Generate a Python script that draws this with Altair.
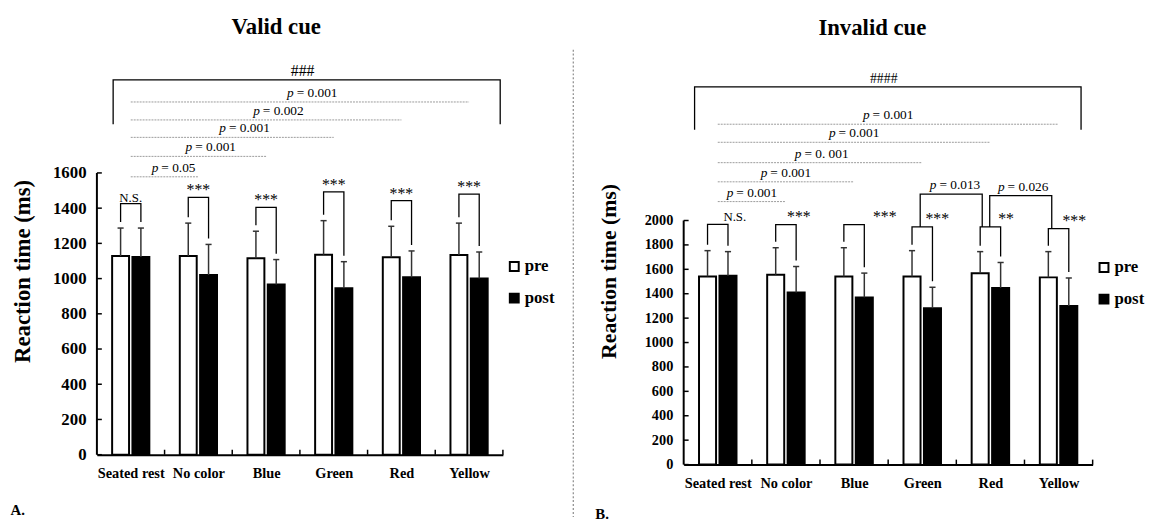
import altair as alt
import pandas as pd

FONT = "Liberation Serif"

categories = ["Seated rest", "No color", "Blue", "Green", "Red", "Yellow"]
groups = ["pre", "post"]

# ---- A. Valid cue ----
valid_pre = [1128, 1128, 1115, 1136, 1121, 1134]
valid_pre_sd = [159, 187, 154, 193, 176, 181]
valid_post = [1123, 1020, 966, 945, 1007, 1001]
valid_post_sd = [164, 174, 142, 151, 150, 150]
valid_pair_top = [1426, 1461, 1405, 1493, 1443, 1480]
valid_pair_sig = ["N.S.", "***", "***", "***", "***", "***"]
valid_rest_levels = [1578, 1694, 1802, 1901, 2003]
valid_rest_p = ["= 0.05", "= 0.001", "= 0.001", "= 0.002", "= 0.001"]
valid_overall = [2129, 1877]
valid_overall_sig = "###"
valid_ticks = [0, 200, 400, 600, 800, 1000, 1200, 1400, 1600]

# ---- B. Invalid cue ----
invalid_pre = [1542, 1556, 1542, 1542, 1567, 1534]
invalid_pre_sd = [211, 221, 235, 211, 178, 211]
invalid_post = [1548, 1410, 1370, 1281, 1448, 1300]
invalid_post_sd = [197, 213, 199, 172, 208, 229]
invalid_pair_top = [1969, 1966, 1966, 1947, 1947, 1934]
invalid_pair_sig = ["N.S.", "***", "***", "***", "**", "***"]
invalid_rest_levels = [2155, 2317, 2474, 2641, 2789]
invalid_rest_p = ["= 0.001", "= 0.001", "= 0. 001", "= 0.001", "= 0.001"]
invalid_between_from = ["Green", "Red"]
invalid_between_to = ["Red", "Yellow"]
invalid_between_level = [2217, 2204]
invalid_between_p = ["= 0.013", "= 0.026"]
invalid_overall = [3095, 2743]
invalid_overall_sig = "####"
invalid_ticks = [0, 200, 400, 600, 800, 1000, 1200, 1400, 1600, 1800, 2000]


def panel(pre, pre_sd, post, post_sd, pair_top, pair_sig, sig_dx, sig_dy,
          rest_levels, rest_p, p_shift, between, overall, overall_sig, overall_x,
          overall_font, ticks, y_max, width, height, title, title_dx,
          tick_font, ytitle_x, ytitle_y, ytitle_size, letter, letter_x, letter_y,
          legend_y, separator=None):
    ppx = width / 6.0
    ppy = height / y_max
    xs = alt.Scale(domain=[-0.5, 5.5], nice=False, zero=False)
    ys = alt.Scale(domain=[0, y_max], nice=False, zero=False)
    idx = {c: i for i, c in enumerate(categories)}

    label_expr = "[" + ",".join("'%s'" % c for c in categories) + "][datum.value]"
    x_axis = alt.Axis(values=list(range(6)), labelExpr=label_expr, ticks=False, tickSize=0,
                      labelFont=FONT, labelFontSize=14.5, labelFontWeight="bold", labelColor="black",
                      labelPadding=12, domainColor="black", domainWidth=2, grid=False,
                      title=letter, titleFont=FONT, titleFontSize=15, titleFontWeight="bold",
                      titleX=letter_x, titleY=letter_y, titleAlign="left", titleBaseline="middle",
                      titleAngle=0, titleColor="black")
    y_axis = alt.Axis(values=ticks, format="d", domain=False, ticks=False, tickSize=0, grid=False,
                      labelFont=FONT, labelFontSize=tick_font, labelFontWeight="bold",
                      labelColor="black", labelPadding=11,
                      title="Reaction time (ms)", titleFont=FONT, titleFontSize=ytitle_size,
                      titleFontWeight="bold", titleX=ytitle_x, titleY=ytitle_y, titleAngle=270,
                      titleAlign="center", titleBaseline="middle", titleColor="black")

    def X(f):
        return alt.X(f, scale=xs, axis=x_axis)

    def Y(f):
        return alt.Y(f, scale=ys, axis=y_axis)

    rows = []
    for i, c in enumerate(categories):
        for g, v, sd, x0 in (("pre", pre[i], pre_sd[i], -0.275), ("post", post[i], post_sd[i], 0.025)):
            rows.append(dict(cat=c, group=g, x0=i + x0, x1=i + x0 + 0.25, c=i + x0 + 0.125,
                             v=v, base=0, err=v + sd,
                             cl=i + x0 + 0.125 - 0.045, cr=i + x0 + 0.125 + 0.045))
    bars_df = pd.DataFrame(rows)

    bars = alt.Chart(bars_df).mark_bar(stroke="black", strokeWidth=2).encode(
        x=X("x0:Q"), x2="x1:Q", y=Y("v:Q"), y2="base:Q",
        fill=alt.Fill("group:N", scale=alt.Scale(domain=groups, range=["white", "black"]),
                      legend=alt.Legend(orient="none", legendX=width + 3, legendY=legend_y,
                                        title=None, symbolType="square", symbolSize=81,
                                        symbolStrokeColor="black", symbolStrokeWidth=2,
                                        labelFont=FONT, labelFontSize=17, labelFontWeight="bold",
                                        labelColor="black", labelOffset=2, rowPadding=14)),
    )
    err = alt.Chart(bars_df).mark_rule(color="#333", strokeWidth=1.5).encode(
        x=X("c:Q"), y=Y("v:Q"), y2="err:Q")
    caps = alt.Chart(bars_df).mark_rule(color="#333", strokeWidth=1.5).encode(
        x=X("cl:Q"), x2="cr:Q", y=Y("err:Q"))

    # axis line and inward ticks
    frame_df = pd.DataFrame(dict(x=[-0.5], y=[0], y2=[ticks[-1]]))
    yline = alt.Chart(frame_df).mark_rule(color="black", strokeWidth=2).encode(
        x=X("x:Q"), y=Y("y:Q"), y2="y2:Q")
    ytick_df = pd.DataFrame(dict(t=ticks, x=[-0.5] * len(ticks), x2=[-0.5 + 5 / ppx] * len(ticks)))
    yticks = alt.Chart(ytick_df).mark_rule(color="black", strokeWidth=1.5).encode(
        x=X("x:Q"), x2="x2:Q", y=Y("t:Q"))
    xtick_df = pd.DataFrame(dict(b=[i + 0.5 for i in range(6)], y=[0] * 6, y2=[5 / ppy] * 6))
    xticks = alt.Chart(xtick_df).mark_rule(color="black", strokeWidth=1.5).encode(
        x=X("b:Q"), y=Y("y:Q"), y2="y2:Q")

    # pre/post brackets
    gap = 6 / ppy
    br = []
    for i, c in enumerate(categories):
        xa, xb = i - 0.15, i + 0.15
        pts = [(xa, pre[i] + pre_sd[i] + gap), (xa, pair_top[i]), (xb, pair_top[i]),
               (xb, post[i] + post_sd[i] + gap)]
        for o, (x, y) in enumerate(pts):
            br.append(dict(k=c, o=o, x=x, y=y))
    for j, (a, b, lev, lab) in enumerate(between):
        xa, xb = idx[a] - 0.03 + 0.02 * j, idx[b] - 0.12 + 0.02 * j
        pts = [(xa, pair_top[idx[a]]), (xa, lev), (xb, lev), (xb, pair_top[idx[b]])]
        for o, (x, y) in enumerate(pts):
            br.append(dict(k="between%d" % j, o=o, x=x, y=y))
    ox0, ox1 = overall_x
    for o, (x, y) in enumerate([(ox0, overall[1]), (ox0, overall[0]), (ox1, overall[0]), (ox1, overall[1])]):
        br.append(dict(k="overall", o=o, x=x, y=y))
    br_df = pd.DataFrame(br)
    brackets = alt.Chart(br_df).mark_line(color="black", strokeWidth=1.3).encode(
        x=X("x:Q"), y=Y("y:Q"), detail="k:N", order="o:Q")

    sig_df = pd.DataFrame(dict(x=[i + d for i, d in enumerate(sig_dx)], y=pair_top, s=pair_sig,
                               ns=[s == "N.S." for s in pair_sig]))
    stars = alt.Chart(sig_df[~sig_df.ns]).mark_text(font=FONT, fontSize=16, baseline="alphabetic",
                                                    dy=sig_dy, color="black").encode(
        x=X("x:Q"), y=Y("y:Q"), text="s:N")
    ns = alt.Chart(sig_df[sig_df.ns]).mark_text(font=FONT, fontSize=13, baseline="alphabetic",
                                                dy=sig_dy, color="black").encode(
        x=X("x:Q"), y=Y("y:Q"), text="s:N")

    # rest comparisons
    rest_df = pd.DataFrame(dict(x=[0] * 5, x2=[k for k in range(1, 6)], y=rest_levels,
                                lab=rest_p, a=[k / 2 + p_shift for k in range(1, 6)]))
    rest_lines = alt.Chart(rest_df).mark_rule(color="#9a9a9a", strokeWidth=1,
                                              strokeDash=[2, 1]).encode(
        x=X("x:Q"), x2="x2:Q", y=Y("y:Q"))
    ptext_rows = [dict(a=r.a, y=r.y, lab=r.lab) for r in rest_df.itertuples()]
    for j, (a, b, lev, lab) in enumerate(between):
        ptext_rows.append(dict(a=(idx[a] + idx[b]) / 2 - 0.27, y=lev, lab=lab))
    ptext_df = pd.DataFrame(ptext_rows)
    p_it = alt.Chart(ptext_df).mark_text(font=FONT, fontSize=13.5, fontStyle="italic",
                                         align="right", baseline="alphabetic", dx=-1.5, dy=-5,
                                         color="black").encode(
        x=X("a:Q"), y=Y("y:Q"), text=alt.value("p"))
    p_val = alt.Chart(ptext_df).mark_text(font=FONT, fontSize=13.5, align="left",
                                          baseline="alphabetic", dx=1.5, dy=-5,
                                          color="black").encode(
        x=X("a:Q"), y=Y("y:Q"), text="lab:N")

    ov_df = pd.DataFrame(dict(x=[(ox0 + ox1) / 2 - 0.06], y=[overall[0]], s=[overall_sig]))
    ov_text = alt.Chart(ov_df).mark_text(font=FONT, fontSize=overall_font, baseline="alphabetic",
                                         dy=-4, color="black").encode(
        x=X("x:Q"), y=Y("y:Q"), text="s:N")

    layers = [bars, err, caps, yline, yticks, xticks, brackets, stars, ns, rest_lines,
              p_it, p_val, ov_text]
    if separator is not None:
        sep_df = pd.DataFrame(dict(x=[separator], y=[y_max], y2=[-(63 / ppy)]))
        layers.append(alt.Chart(sep_df).mark_rule(color="#8a8a8a", strokeWidth=1.2,
                                                  strokeDash=[2, 2]).encode(
            x=X("x:Q"), y=Y("y:Q"), y2="y2:Q"))
    return alt.layer(*layers).properties(
        width=width, height=height,
        title=alt.TitleParams(title, font=FONT, fontSize=23, fontWeight="bold", color="black",
                              anchor="middle", frame="group", dx=title_dx, offset=10))


left = panel(valid_pre, valid_pre_sd, valid_post, valid_post_sd, valid_pair_top, valid_pair_sig,
             [0, 0, 0, 0, 0, 0], -2, valid_rest_levels, valid_rest_p, -0.07, [],
             valid_overall, valid_overall_sig, (-0.26, 5.46), 16, valid_ticks, 2300, 411, 410,
             "Valid cue", -24, 17, -75, 224, 23, "A.", -88, 56, 211, separator=6.54)

between = list(zip(invalid_between_from, invalid_between_to, invalid_between_level, invalid_between_p))
right = panel(invalid_pre, invalid_pre_sd, invalid_post, invalid_post_sd, invalid_pair_top,
              invalid_pair_sig, [0.25, 0.19, 0.45, 0.22, 0.23, 0.23], -3, invalid_rest_levels,
              invalid_rest_p, -0.25, between, invalid_overall, invalid_overall_sig, (-0.34, 5.33),
              14, invalid_ticks, 3400, 414, 420, "Invalid cue", -16, 14.5, -76, 224, 22,
              "B.", -90, 50, 212)

chart = alt.hconcat(left, right, spacing=21).resolve_scale(
    x="independent", y="independent", fill="independent").resolve_legend(
    fill="independent").properties(
    padding={"left": 2, "top": 5, "right": 0, "bottom": 0}).configure_view(stroke=None)

chart.save("out.html", embed_options={"renderer": "svg", "actions": False})
